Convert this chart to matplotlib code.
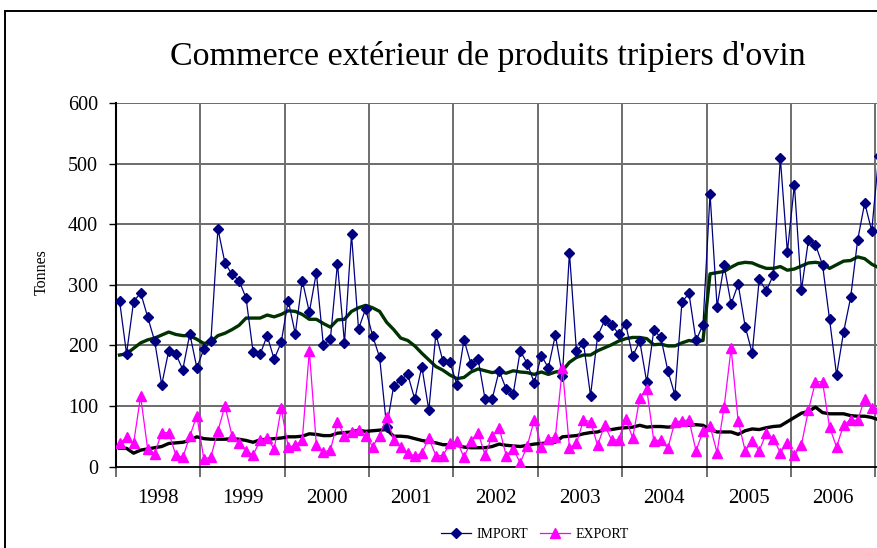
import numpy as np
import matplotlib
matplotlib.use("Agg")
import matplotlib.pyplot as plt
from matplotlib.patches import Rectangle

# monthly tonnages, Jan 1998 .. Jan 2007
imports = [
    274, 186, 272, 287, 247, 207, 135, 191, 186, 160, 219, 163,
    194, 207, 392, 336, 317, 307, 278, 189, 185, 216, 177, 205,
    274, 219, 307, 255, 320, 200, 211, 335, 204, 383, 227, 260,
    216, 180, 65, 133, 143, 152, 111, 165, 93, 219, 174, 172,
    135, 209, 169, 178, 111, 111, 158, 128, 120, 191, 170, 138,
    183, 163, 217, 150, 353, 190, 204, 117, 215, 241, 234, 219,
    235, 182, 207, 139, 225, 213, 158, 118, 271, 286, 208, 234,
    450, 264, 332, 268, 301, 231, 187, 309, 290, 316, 509, 354,
    465, 291, 374, 366, 333, 243, 151, 222, 279, 374, 435, 389,
    513,
]
exports = [
    38, 48, 38, 116, 29, 21, 56, 56, 19, 15, 50, 84,
    12, 16, 59, 100, 51, 39, 26, 19, 43, 47, 29, 96,
    32, 35, 44, 191, 36, 24, 27, 73, 51, 57, 61, 51,
    33, 51, 82, 44, 32, 23, 17, 22, 47, 18, 18, 38,
    42, 15, 42, 56, 19, 50, 64, 18, 29, 6, 34, 77,
    32, 46, 49, 163, 31, 38, 77, 74, 35, 68, 44, 44,
    79, 47, 113, 128, 42, 44, 30, 74, 75, 77, 26, 58,
    67, 23, 98, 195, 75, 26, 42, 26, 55, 46, 23, 39,
    19, 36, 93, 140, 140, 65, 32, 69, 77, 76, 112, 96,
    96,
]
import_trend = [
    184, 186, 195, 204, 209, 212, 217, 222, 218, 216, 216, 210,
    203, 206, 216, 220, 226, 233, 245, 245, 245, 250, 247, 251,
    257, 256, 251, 243, 243, 236, 230, 242, 243, 256, 262, 266,
    262, 256, 238, 226, 212, 208, 199, 187, 176, 165, 159, 151,
    145, 147, 156, 161, 158, 155, 157, 154, 158, 156, 155, 152,
    156, 152, 156, 158, 172, 180, 184, 184, 191, 196, 201, 207,
    211, 213, 213, 211, 201, 202, 199, 199, 204, 208, 206, 208,
    318, 320, 322, 329, 335, 337, 336, 331, 327, 327, 330, 324,
    326, 331, 336, 337, 335, 327, 333, 339, 340, 346, 343, 334,
    328,
]
export_trend = [
    30, 30, 22, 27, 29, 31, 33, 38, 39, 40, 43, 49,
    46, 45, 45, 45, 46, 45, 43, 40, 44, 45, 46, 47,
    49, 49, 50, 54, 53, 51, 51, 55, 56, 57, 60, 58,
    59, 60, 61, 50, 50, 49, 46, 43, 41, 39, 36, 36,
    35, 32, 31, 31, 31, 33, 37, 35, 34, 33, 35, 37,
    38, 39, 40, 49, 50, 51, 54, 56, 57, 61, 61, 63,
    64, 65, 68, 65, 66, 66, 65, 66, 68, 68, 69, 68,
    61, 57, 57, 57, 53, 59, 62, 61, 64, 66, 67, 74,
    81, 88, 91, 98, 89, 87, 87, 87, 84, 83, 83, 81,
    77,
]
years = ["1998", "1999", "2000", "2001", "2002", "2003", "2004", "2005", "2006"]
y_ticks = [0, 100, 200, 300, 400, 500, 600]

serif = "Liberation Serif"
W, H = 877, 548

fig = plt.figure(figsize=(W / 100, H / 100), dpi=100)
fig.patch.set_facecolor("white")

# chart frame (cut off on the right and bottom like the source)
fig.patches.append(Rectangle((5 / W, -0.1), 1.2, 1.1 - 11 / H,
                             transform=fig.transFigure, fill=False,
                             edgecolor="black", linewidth=1.4, zorder=0))

n = len(imports)
x = np.arange(n)
ax = fig.add_axes([116 / W, 81.5 / H, n * 7.03 / W, 363.5 / H])

ax.plot(x, import_trend, color="#003300", lw=2.4, zorder=3)
ax.plot(x, export_trend, color="black", lw=2.4, zorder=3)
ax.plot(x, imports, color="#000080", lw=0.9, marker="D", ms=5.3,
        label="IMPORT", zorder=4)
ax.plot(x, exports, color="#FF00FF", lw=0.9, marker="^", ms=6.5,
        label="EXPORT", zorder=4)

ax.set_xlim(-0.5, n - 0.5)
ax.set_ylim(0, 600)
ax.set_yticks(y_ticks)
ax.set_yticklabels([str(v) for v in y_ticks], fontfamily=serif, fontsize=14.5)
ax.tick_params(axis="y", length=5, width=1, pad=8, color="black")

bounds = np.arange(0, 12 * len(years) + 1, 12) - 0.5
ax.set_xticks(bounds)
ax.set_xticklabels([])
ax.tick_params(axis="x", which="major", length=7, width=1.2, color="#555555")
ax.set_xticks(np.arange(len(years)) * 12 + 5.5, minor=True)
ax.set_xticklabels(years, minor=True, fontfamily=serif, fontsize=15)
ax.tick_params(axis="x", which="minor", length=0, pad=16)

for v in y_ticks[1:]:
    ax.axhline(v, color="#444444", lw=1.1, zorder=1)
for b in bounds[1:]:
    ax.axvline(b, color="#6e6e6e", lw=1.4, zorder=1)

for s in ["top", "right"]:
    ax.spines[s].set_visible(False)
ax.spines["left"].set_linewidth(1.5)
ax.spines["bottom"].set_linewidth(1.3)

fig.text(488 / W, 1 - 65 / H, "Commerce extérieur de produits tripiers d'ovin",
         ha="center", va="baseline", fontfamily=serif, fontsize=24.5)
fig.text(42 / W, 1 - 272 / H, "Tonnes", rotation=90, ha="center", va="center",
         fontfamily=serif, fontsize=11.5)

fig.legend(loc="center", bbox_to_anchor=(535 / W, 1 - 534 / H), ncol=2,
           frameon=False, prop={"family": serif, "size": 10},
           handlelength=2.2, columnspacing=0.8, handletextpad=0.4)

fig.savefig("out.png", dpi=100)
